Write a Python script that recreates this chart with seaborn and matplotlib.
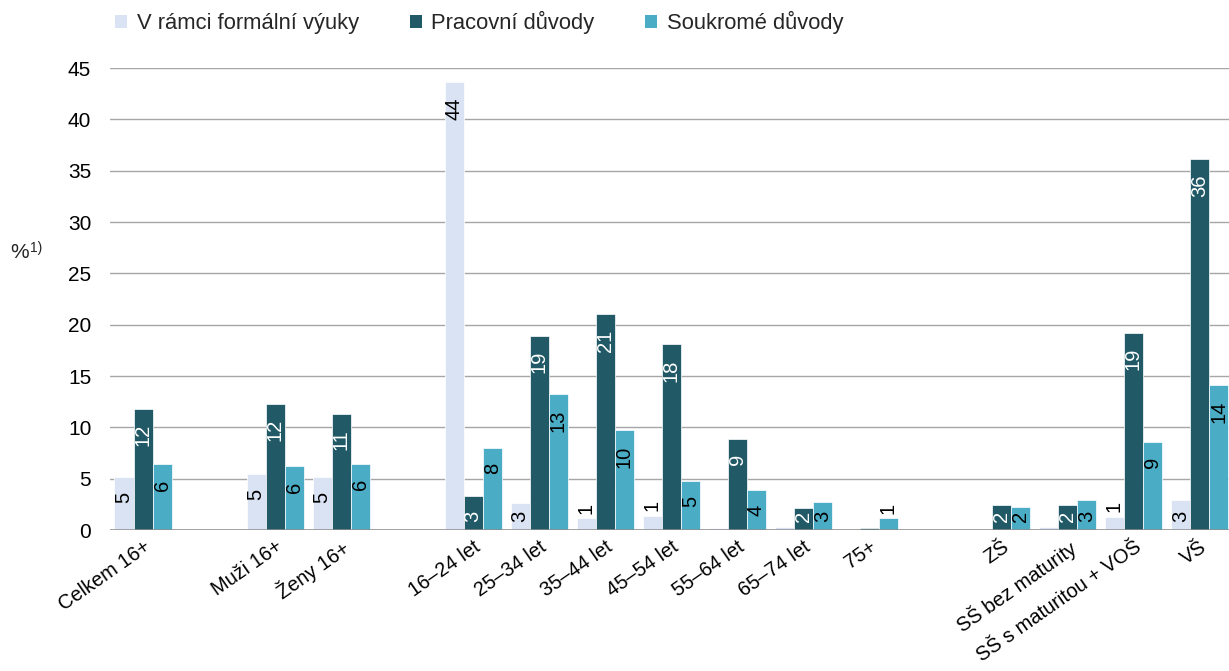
import numpy as np
import pandas as pd
import seaborn as sns
import matplotlib.pyplot as plt
from matplotlib.patches import Patch

# categories (gap_* are the empty slots between the blocks)
cat_keys = ['Celkem 16+', 'gap1', 'Muži 16+', 'Ženy 16+', 'gap2',
            '16–24 let', '25–34 let', '35–44 let', '45–54 let', '55–64 let',
            '65–74 let', '75+', 'gap3',
            'ZŠ', 'SŠ bez maturity', 'SŠ s maturitou + VOŠ', 'VŠ']
tick_labels = ['' if k.startswith('gap') else k for k in cat_keys]
real_cats = [k for k in cat_keys if not k.startswith('gap')]

series = ['V rámci formální výuky', 'Pracovní důvody', 'Soukromé důvody']
formal = [5.2, 5.45, 5.2, 43.6, 2.6, 1.2, 1.4, 0.2, 0.3, 0.0, 0.0, 0.3, 1.3, 2.9]
work = [11.8, 12.3, 11.3, 3.3, 18.9, 21.0, 18.1, 8.9, 2.1, 0.2, 2.4, 2.4, 19.2, 36.1]
private = [6.4, 6.2, 6.45, 8.0, 13.2, 9.7, 4.8, 3.9, 2.7, 1.2, 2.2, 2.9, 8.6, 14.1]

colors = ['#DAE3F3', '#215967', '#4BACC6']
label_colors = ['black', 'white', 'black']

df = pd.concat([
    pd.DataFrame({'cat': real_cats, 'series': s, 'val': v})
    for s, v in zip(series, [formal, work, private])
])

sns.set_theme(style='white')
plt.rcParams['font.family'] = ['Liberation Sans', 'DejaVu Sans']

fig = plt.figure(figsize=(12.29, 6.71), dpi=100)
W, H = 1229, 671
ax_left, ax_right, ax_top, ax_bot = 110, 1232.5, 68, 530
ax = fig.add_axes([ax_left / W, 1 - ax_bot / H, (ax_right - ax_left) / W, (ax_bot - ax_top) / H])

sns.barplot(df, x='cat', y='val', hue='series', order=cat_keys, hue_order=series,
            palette=colors, width=0.864, edgecolor='white', linewidth=0.5,
            saturation=1, errorbar=None, ax=ax)

ax.set_xlim(-0.5, 16.5)
ax.set_ylim(0, 45)
ax.set_yticks(range(0, 46, 5))
ax.set_xticks(range(len(cat_keys)))
ax.set_xticklabels(tick_labels, rotation=35, ha='right', rotation_mode='anchor')
ax.tick_params(axis='x', length=0, pad=5, labelsize=14.4, colors='black')
ax.tick_params(axis='y', length=0, pad=13.5, labelsize=15, colors='black')
ax.set_xlabel(None)
ax.set_ylabel(None)
for sp in ax.spines.values():
    sp.set_visible(False)
ax.grid(axis='y', color='#a6a6a6', linewidth=1.0)
ax.set_axisbelow(True)
ax.axhline(0, color='#8c8c8c', linewidth=1.8, zorder=5)

# data labels
px_per_unit = (ax_bot - ax_top) / 45
for cont, col in zip(ax.containers, label_colors):
    for bar in cont:
        h = bar.get_height()
        if np.isnan(h):
            continue
        n = int(round(h))
        if n < 1:
            continue
        x = bar.get_x() + bar.get_width() / 2
        if n >= 2:
            txt_px = 11 * len(str(n))
            off = min(15, max(1, h * px_per_unit - txt_px - 8))
            ax.annotate(str(n), (x, h), xytext=(0, -off * 0.72), textcoords='offset points',
                        rotation=90, ha='center', va='top', color=col, fontsize=14.5)
        else:
            ax.annotate(str(n), (x, h), xytext=(0, 3), textcoords='offset points',
                        rotation=90, ha='center', va='bottom', color='black', fontsize=14.5)

# legend
ax.get_legend().remove()
handles = [Patch(facecolor=c, edgecolor='none') for c in colors]
fig.legend(handles, series, loc='upper left', bbox_to_anchor=(115 / W, 1 - 11 / H),
           ncol=3, frameon=False, fontsize=15.8, handlelength=0.55, handleheight=0.55,
           handletextpad=0.45, columnspacing=2.3, borderpad=0, borderaxespad=0)

# y-axis unit
fig.text(10 / W, 1 - 252 / H, '%', fontsize=15, va='center', ha='left')
fig.text(30 / W, 1 - 248 / H, '1)', fontsize=10, va='center', ha='left')

fig.savefig('out.png', dpi=100)
